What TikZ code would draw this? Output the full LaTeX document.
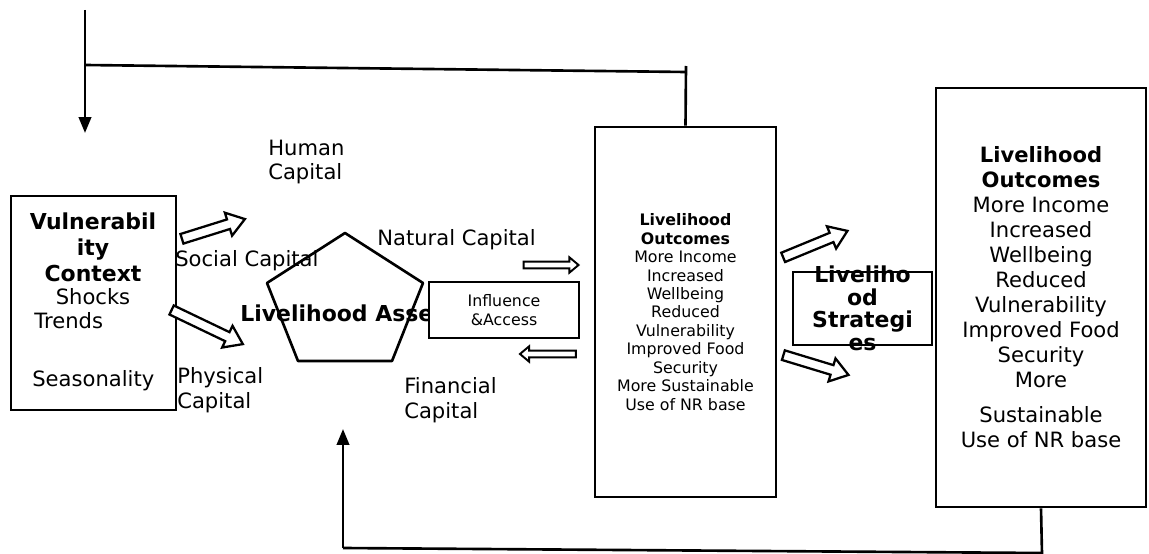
\documentclass[tikz,border=0pt]{standalone}
\usepackage{fontspec}
\setmainfont{DejaVu Sans}
\usetikzlibrary{arrows.meta,positioning,calc,shapes.arrows}
\tikzset{
  boxnode/.style={draw, line width=1.5pt, fill=white, inner sep=0pt},
  lbl/.style={font=\fontsize{12}{14.2}\selectfont, inner sep=0pt, align=left},
  smalltxt/.style={font=\fontsize{9}{10.5}\selectfont, inner sep=0pt, align=center},
  bigtxt/.style={font=\fontsize{12}{14.2}\selectfont, inner sep=0pt, align=center},
  blockarr/.style={single arrow, draw, fill=white, line width=1.3pt, inner xsep=0pt,
    inner ysep=2.2pt, single arrow head extend=4pt, single arrow tip angle=70, minimum height=#1},
  thinarr/.style={single arrow, draw, fill=white, line width=1.1pt, inner xsep=0pt,
    inner ysep=1.4pt, single arrow head extend=2.4pt, single arrow tip angle=80, minimum height=#1},
  fbline/.style={line width=1.5pt},
  fbarrow/.style={fbline, -{Triangle[length=9pt,width=7pt]}},
}

\begin{document}
\begin{tikzpicture}[x=0.02cm, y=-0.02cm]
    \useasboundingbox (0,0) rectangle (1149,554);
    % vulnerability context
    \node[boxnode, minimum width=3.30cm, minimum height=4.28cm] (vuln) at (93.5,303) {};
    \node[bigtxt, font=\fontsize{12.5}{14.8}\selectfont\bfseries] (vulnt) at (93,247) {Vulnerabil\\ity\\Context};
    \node[lbl] (shocks) at (93,297) {Shocks};
    \node[lbl, anchor=west] (trends) at (34,321) {Trends};
    \node[lbl, anchor=west] (season) at (32,381) {Seasonality};
    % capitals
    \node[lbl, anchor=west] (human) at (268,162) {Human\\Capital};
    \node[lbl, anchor=west] (social) at (175,261) {Social Capital};
    \node[lbl, anchor=west] (natural) at (377,240) {Natural Capital};
    \node[lbl, anchor=west] (physical) at (177,390) {Physical\\Capital};
    \node[lbl, anchor=west] (financial) at (404,400) {Financial\\Capital};
    \draw[line width=1.5pt, line join=round] (345,233) -- (423,283) -- (392,361) -- (298,361) -- (267,283) -- cycle;
    \node[lbl, font=\fontsize{12.5}{14.2}\selectfont\bfseries, anchor=west] (assets) at (240,313) {Livelihood Assets};
    \node[boxnode, minimum width=3.0cm, minimum height=1.12cm, smalltxt] (infl) at (504,310) {Influence\\\&Access};
    % outcomes boxes
    \node[boxnode, minimum width=3.62cm, minimum height=7.40cm, smalltxt] (midbox) at (685.5,312)
      {\textbf{Livelihood}\\\textbf{Outcomes}\\More Income\\Increased\\Wellbeing\\Reduced\\Vulnerability\\Improved Food\\Security\\More Sustainable\\Use of NR base};
    \node[boxnode, minimum width=2.78cm, minimum height=1.46cm] (strat) at (862.5,308.5) {};
    \node[bigtxt, font=\fontsize{12.5}{12.8}\selectfont\bfseries] (stratt) at (strat.center) {Liveliho\\od\\Strategi\\es};
    \node[boxnode, minimum width=4.20cm, minimum height=8.38cm, bigtxt, font=\fontsize{12}{14.2}\selectfont] (rightbox) at (1041,297.5)
      {\textbf{Livelihood}\\\textbf{Outcomes}\\More Income\\Increased\\Wellbeing\\Reduced\\Vulnerability\\Improved Food\\Security\\More\\[6pt]Sustainable\\Use of NR base};
    % hollow arrows
    \node[blockarr=1.32cm, rotate=17.4] (va) at (210,230) {};
    \node[blockarr=1.58cm, rotate=-25.6] (vb) at (204,325.5) {};
    \node[blockarr=1.39cm, rotate=22.4] (ma) at (812,245.5) {};
    \node[blockarr=1.36cm, rotate=-16.9] (mb) at (812.5,364) {};
    \node[thinarr=1.10cm] (ha) at (549,265) {};
    \node[thinarr=1.12cm, rotate=180] (hb) at (550,354) {};
    % feedback lines
    \coordinate (fbtop) at (85,10);
    \coordinate (fbleft) at (85,65);
    \coordinate (fbtip) at (85,133);
    \coordinate (fbright) at (686,72);
    \coordinate (fbtick) at (686,66);
    \draw[fbline] (fbleft) -- (fbright);
    \draw[fbline] (midbox.north) -- (fbtick);
    \draw[fbarrow] (fbtop) -- (fbtip);
    \coordinate (btright) at (1042,554);
    \coordinate (btcorner) at (1042,553);
    \coordinate (btleft) at (343,548);
    \coordinate (bttip) at (343,429);
    \draw[fbline] (rightbox.south) -- (btright);
    \draw[fbline] (btcorner) -- (btleft);
    \draw[fbarrow] (btleft) -- (bttip);
\end{tikzpicture}
\end{document}
